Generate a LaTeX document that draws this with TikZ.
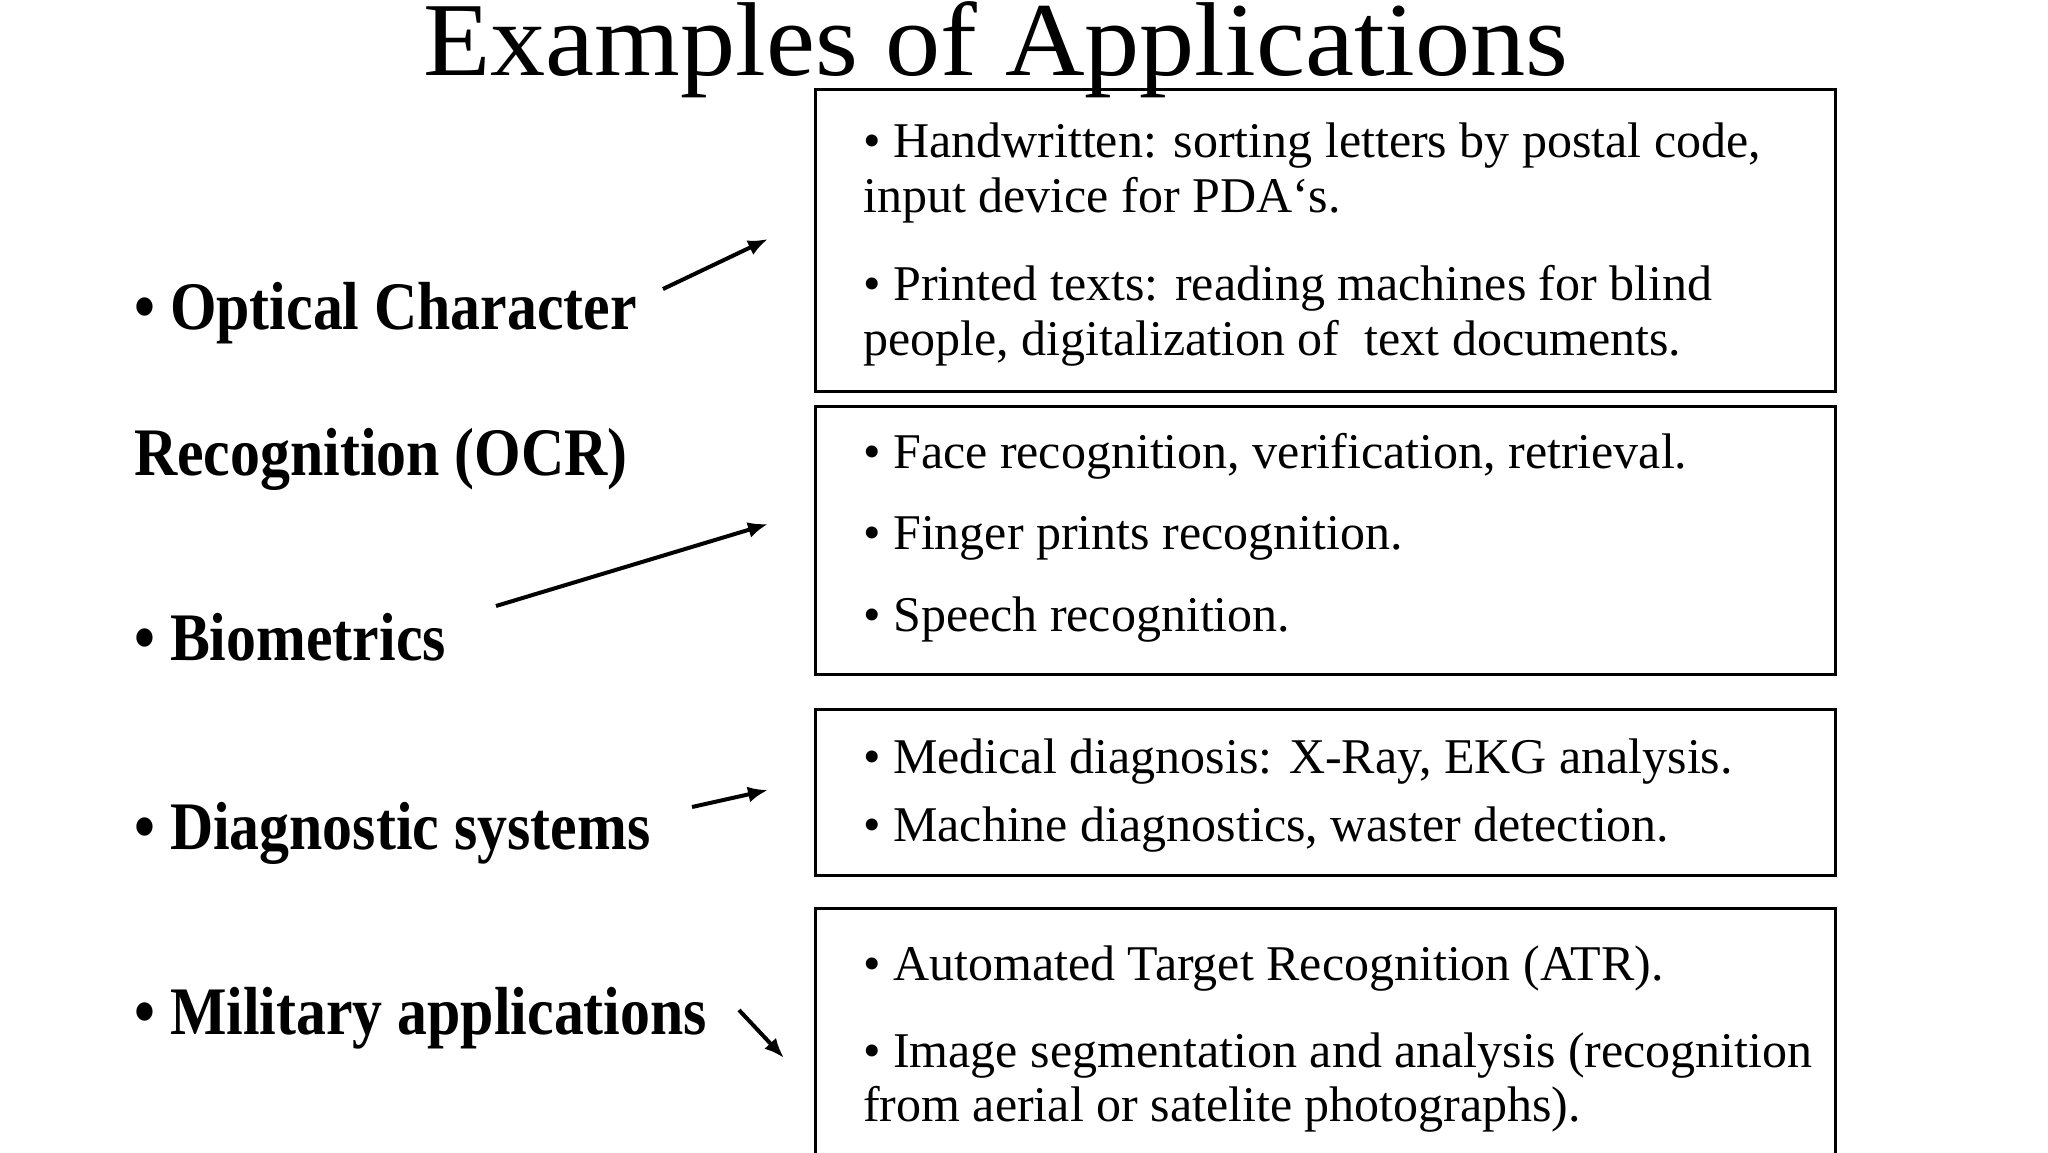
\documentclass[tikz,border=0pt]{standalone}
\usepackage{fontspec}
\setmainfont{Liberation Serif}
\newfontfamily\labfont[FakeStretch=0.88]{Liberation Serif}
\newfontfamily\titlefont[FakeStretch=1.05]{Liberation Serif}
\usetikzlibrary{arrows.meta}
\begin{document}
\begin{tikzpicture}[x=1pt,y=-1pt,
  box/.style={draw=black, line width=3pt, minimum width=1020pt, inner sep=0pt},
  item/.style={anchor=base west, inner sep=0pt, font=\fontsize{50}{55}\selectfont},
  lab/.style={anchor=base west, inner sep=0pt, font=\labfont\bfseries\fontsize{68}{75}\selectfont},
  arr/.style={line width=4pt, -{Latex[length=20pt,width=16pt]}}]
\clip (0,0) rectangle (2048,1152);
\fill[white] (0,0) rectangle (2048,1152);
% title
\node[anchor=base, inner sep=0pt, font=\titlefont\fontsize{105}{115}\selectfont] (title) at (996,75) {Examples of Applications};
% left labels
\node[lab] (ocr1) at (134,329) {• Optical Character};
\node[lab] (ocr2) at (134,475) {Recognition (OCR)};
\node[lab] (bio) at (134,660) {• Biometrics};
\node[lab] (diag) at (134,849) {• Diagnostic systems};
\node[lab] (mil) at (134,1034) {• Military applications};
% boxes
\node[box, minimum height=302pt] (b1) at (1325,240) {};
\node[box, minimum height=268pt] (b2) at (1325,540) {};
\node[box, minimum height=166pt] (b3) at (1325,792) {};
\node[box, minimum height=292pt] (b4) at (1325,1054) {};
% box texts
\node[item] (h1) at (863,157) {• Handwritten: sorting letters by postal code,};
\node[item] (h2) at (863,212) {input device for PDA‘s.};
\node[item] (p1) at (863,300) {• Printed texts: reading machines for blind};
\node[item] (p2) at (863,355) {people, digitalization of \ text documents.};
\node[item] (f1) at (863,468) {• Face recognition, verification, retrieval.};
\node[item] (f2) at (863,549) {• Finger prints recognition.};
\node[item] (f3) at (863,631) {• Speech recognition.};
\node[item] (m1) at (863,773) {• Medical diagnosis: X-Ray, EKG analysis.};
\node[item] (m2) at (863,841) {• Machine diagnostics, waster detection.};
\node[item] (t1) at (863,980) {• Automated Target Recognition (ATR).};
\node[item] (t2) at (863,1067) {• Image segmentation and analysis (recognition};
\node[item] (t3) at (863,1121) {from aerial or satelite photographs).};
% arrows
\coordinate (s1) at (663,289); \coordinate (e1) at (768,239);
\coordinate (s2) at (496,606); \coordinate (e2) at (768,524);
\coordinate (s3) at (692,807); \coordinate (e3) at (768,790);
\coordinate (s4) at (739,1010); \coordinate (e4) at (784,1058);
\draw[arr] (s1) -- (e1);
\draw[arr] (s2) -- (e2);
\draw[arr] (s3) -- (e3);
\draw[arr] (s4) -- (e4);
\end{tikzpicture}
\end{document}
